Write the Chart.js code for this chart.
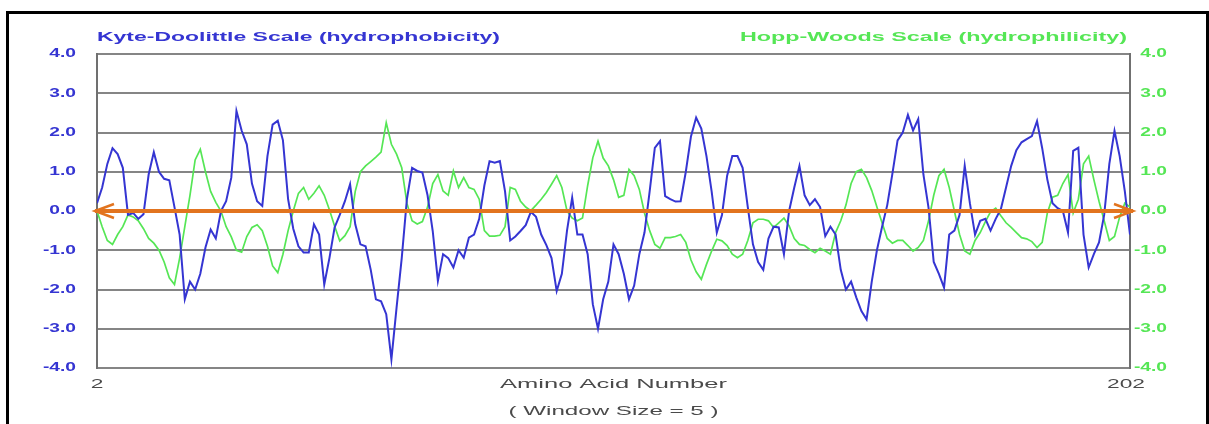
<!DOCTYPE html>
<html>
<head>
<meta charset="utf-8">
<script src="https://cdn.jsdelivr.net/npm/chart.js@4.4.1/dist/chart.umd.min.js"></script>
<style>
html, body { margin:0; padding:0; background:#fff; overflow:hidden; }
#frame { position:absolute; left:6px; top:11px; width:1197px; height:500px; border:3px solid #000; }
#wrap { position:absolute; left:0; top:0; width:1209px; height:424px; }
</style>
</head>
<body>
<div id="frame"></div>
<div id="wrap"><canvas id="hydroChart"></canvas></div>
<script>
// DATA (residues 2..202, window size 5)
const firstResidue = 2;
const lastResidue = 202;

const kyteDoolittle = [
  0.2, 0.6, 1.2, 1.6, 1.45, 1.1, -0.1, -0.05, -0.2, -0.08,
  0.93, 1.5, 1.0, 0.82, 0.78, 0.1, -0.6, -2.25, -1.8, -2.0,
  -1.6, -0.93, -0.47, -0.7, 0.0, 0.25, 0.85, 2.55, 2.05, 1.7,
  0.7, 0.25, 0.13, 1.4, 2.2, 2.3, 1.8, 0.3, -0.45, -0.9,
  -1.06, -1.06, -0.34, -0.6, -1.87, -1.2, -0.42, -0.1, 0.25, 0.68,
  -0.34, -0.85, -0.9, -1.5, -2.25, -2.3, -2.63, -3.78, -2.46, -1.2,
  0.3, 1.1, 1.02, 0.98, 0.4, -0.51, -1.78, -1.1, -1.2, -1.44,
  -1.0, -1.19, -0.68, -0.6, -0.2, 0.65, 1.27, 1.23, 1.27, 0.5,
  -0.75, -0.65, -0.51, -0.36, -0.02, -0.15, -0.6, -0.87, -1.2, -2.04,
  -1.6, -0.5, 0.34, -0.6, -0.6, -1.1, -2.38, -3.0, -2.25, -1.8,
  -0.85, -1.1, -1.6, -2.25, -1.9, -1.1, -0.55, 0.5, 1.61, 1.78,
  0.38, 0.3, 0.24, 0.25, 1.0, 1.9, 2.38, 2.1, 1.4, 0.5,
  -0.55, -0.1, 0.9, 1.4, 1.4, 1.1, 0.1, -0.85, -1.3, -1.5,
  -0.7, -0.4, -0.42, -1.1, 0.0, 0.6, 1.15, 0.4, 0.15, 0.3,
  0.1, -0.64, -0.4, -0.6, -1.5, -2.0, -1.8, -2.2, -2.55, -2.76,
  -1.8, -1.0, -0.4, 0.15, 0.95, 1.8, 2.0, 2.45, 2.05, 2.34,
  0.93, 0.08, -1.3, -1.6, -1.95, -0.6, -0.5, -0.1, 1.15, 0.2,
  -0.6, -0.25, -0.2, -0.5, -0.2, 0.05, 0.6, 1.15, 1.55, 1.75,
  1.83, 1.91, 2.29, 1.6, 0.8, 0.2, 0.07, 0.0, -0.55, 1.53,
  1.61, -0.6, -1.44, -1.1, -0.8, -0.1, 1.2, 2.04, 1.4, 0.5,
  -0.6
];

const hoppWoods = [
  0.0, -0.4, -0.75, -0.85, -0.6, -0.4, -0.1, -0.15, -0.25, -0.45,
  -0.7, -0.82, -1.0, -1.3, -1.7, -1.87, -1.2, -0.4, 0.4, 1.3,
  1.57, 1.0, 0.5, 0.22, 0.0, -0.4, -0.66, -1.0, -1.05, -0.65,
  -0.42, -0.35, -0.5, -0.9, -1.4, -1.57, -1.1, -0.5, 0.0, 0.45,
  0.6, 0.3, 0.45, 0.64, 0.4, 0.03, -0.38, -0.76, -0.63, -0.4,
  0.5, 1.0, 1.15, 1.26, 1.37, 1.5, 2.25, 1.7, 1.45, 1.1,
  0.2, -0.25, -0.33, -0.27, 0.1, 0.7, 0.93, 0.51, 0.4, 1.02,
  0.6, 0.85, 0.6, 0.55, 0.3, -0.5, -0.64, -0.64, -0.62, -0.4,
  0.6, 0.55, 0.25, 0.1, 0.01, 0.15, 0.3, 0.47, 0.68, 0.9,
  0.6, 0.0, -0.18, -0.25, -0.18, 0.65, 1.36, 1.78, 1.35, 1.15,
  0.8, 0.35, 0.4, 1.06, 0.9, 0.55, -0.05, -0.5, -0.85, -0.95,
  -0.68, -0.68, -0.65, -0.6, -0.8, -1.25, -1.55, -1.74, -1.36, -1.02,
  -0.72, -0.76, -0.88, -1.1, -1.19, -1.1, -0.75, -0.3, -0.21, -0.21,
  -0.25, -0.42, -0.3, -0.18, -0.38, -0.7, -0.85, -0.88, -0.98, -1.06,
  -0.95, -1.02, -1.1, -0.55, -0.25, 0.15, 0.7, 1.0, 1.06, 0.85,
  0.52, 0.1, -0.3, -0.7, -0.82, -0.75, -0.75, -0.88, -1.02, -0.93,
  -0.75, -0.25, 0.4, 0.9, 1.06, 0.6, 0.0, -0.6, -1.02, -1.1,
  -0.75, -0.55, -0.27, -0.02, 0.07, -0.12, -0.3, -0.42, -0.55, -0.68,
  -0.71, -0.78, -0.93, -0.8, -0.05, 0.35, 0.4, 0.7, 0.93, -0.05,
  0.3, 1.2, 1.4, 0.8, 0.25, -0.25, -0.75, -0.65, -0.15, 0.2,
  0.1
];

const yTicks = [4, 3, 2, 1, 0, -1, -2, -3, -4];
const xTicks = [firstResidue, lastResidue];

const kdTitle = "Kyte-Doolittle Scale (hydrophobicity)";
const hwTitle = "Hopp-Woods Scale (hydrophilicity)";
const xTitle = "Amino Acid Number";
const xSubTitle = "( Window Size = 5 )";

const BLUE = "#3535d2";
const GREEN = "#55e655";
const ORANGE = "#e2741f";
const GRID = "#858585";
const TEXT_GREY = "#4a4a4a";
const BOLD = "bold 12px 'Liberation Sans', Arial, sans-serif";
const PLAIN = "13px 'Liberation Sans', Arial, sans-serif";

const residues = kyteDoolittle.map((v, i) => firstResidue + i);
const kdPoints = kyteDoolittle.map((v, i) => ({ x: residues[i], y: v }));
const hwPoints = hoppWoods.map((v, i) => ({ x: residues[i], y: v }));

// stretched text helper (the original picture is stretched sideways)
function stretchText(ctx, text, x, y, opt) {
  ctx.save();
  ctx.font = opt.font || PLAIN;
  ctx.fillStyle = opt.color;
  ctx.textBaseline = "middle";
  const w = ctx.measureText(text).width;
  const sx = opt.width ? opt.width / w : (opt.sx || 1.6);
  const drawn = w * sx;
  let left = x;
  if (opt.align === "center") left = x - drawn / 2;
  if (opt.align === "right") left = x - drawn;
  ctx.translate(left, y);
  ctx.scale(sx, 1);
  ctx.textAlign = "left";
  ctx.fillText(text, 0, 0);
  ctx.restore();
}

// TEXT LABELS
const labelPlugin = {
  id: "labels",
  afterDraw(chart) {
    const ctx = chart.ctx;
    const yl = chart.scales.yLeft;
    const x = chart.scales.x;
    const area = chart.chartArea;

    stretchText(ctx, kdTitle, area.left, 38, { color: BLUE, width: 403, font: BOLD });
    stretchText(ctx, hwTitle, area.right - 3, 38, { color: GREEN, width: 387, align: "right", font: BOLD });

    yTicks.forEach(v => {
      const py = yl.getPixelForValue(v);
      stretchText(ctx, v.toFixed(1), 76, py, { color: BLUE, align: "right", font: BOLD });
      stretchText(ctx, v.toFixed(1), 1167, py, { color: GREEN, align: "right", font: BOLD });
    });

    xTicks.forEach(v => {
      const px = x.getPixelForValue(v);
      const shift = v === lastResidue ? -4 : 0;
      stretchText(ctx, String(v), px + shift, 384, { color: TEXT_GREY, align: "center", sx: 1.75 });
    });

    stretchText(ctx, xTitle, (area.left + area.right) / 2, 384, { color: TEXT_GREY, width: 227, align: "center" });
    stretchText(ctx, xSubTitle, (area.left + area.right) / 2, 411, { color: TEXT_GREY, width: 210, align: "center" });
  }
};

// ZERO LINE WITH ARROWS
const zeroArrowPlugin = {
  id: "zeroArrow",
  afterDatasetsDraw(chart) {
    const ctx = chart.ctx;
    const x = chart.scales.x;
    const y0 = chart.scales.yLeft.getPixelForValue(0);
    const left = x.getPixelForValue(firstResidue) - 2;
    const right = x.getPixelForValue(lastResidue) + 3;
    ctx.save();
    ctx.strokeStyle = ORANGE;
    ctx.lineWidth = 4;
    ctx.beginPath();
    ctx.moveTo(left, y0);
    ctx.lineTo(right, y0);
    ctx.stroke();
    ctx.lineWidth = 2.5;
    ctx.beginPath();
    ctx.moveTo(left + 19, y0 - 7);
    ctx.lineTo(left, y0);
    ctx.lineTo(left + 19, y0 + 7);
    ctx.moveTo(right - 19, y0 - 7);
    ctx.lineTo(right, y0);
    ctx.lineTo(right - 19, y0 + 7);
    ctx.stroke();
    ctx.restore();
  }
};

const ctx = document.getElementById("hydroChart");

new Chart(ctx, {
  type: "line",
  data: {
    datasets: [
      {
        label: kdTitle,
        data: kdPoints,
        yAxisID: "yLeft",
        borderColor: BLUE,
        borderWidth: 2,
        pointRadius: 0,
        tension: 0
      },
      {
        label: hwTitle,
        data: hwPoints,
        yAxisID: "yRight",
        borderColor: GREEN,
        borderWidth: 1.7,
        pointRadius: 0,
        tension: 0
      }
    ]
  },
  options: {
    responsive: true,
    maintainAspectRatio: false,
    animation: false,
    layout: { padding: { top: 54, left: 0, right: 0, bottom: 0 } },
    plugins: {
      legend: { display: false },
      tooltip: { enabled: false }
    },
    scales: {
      x: {
        type: "linear",
        min: firstResidue,
        max: lastResidue,
        grid: { display: false },
        border: { display: false },
        ticks: { display: false },
        afterFit: s => { s.height = 56; }
      },
      yLeft: {
        position: "left",
        min: -4,
        max: 4,
        ticks: { display: false, stepSize: 1 },
        grid: { color: GRID, lineWidth: 2, drawTicks: false },
        border: { display: true, color: "#707070", width: 2 },
        afterFit: s => { s.width = 97; }
      },
      yRight: {
        position: "right",
        min: -4,
        max: 4,
        ticks: { display: false, stepSize: 1 },
        grid: { drawOnChartArea: false, drawTicks: false },
        border: { display: true, color: "#707070", width: 2 },
        afterFit: s => { s.width = 79; }
      }
    }
  },
  plugins: [labelPlugin, zeroArrowPlugin]
});
</script>
</body>
</html>
